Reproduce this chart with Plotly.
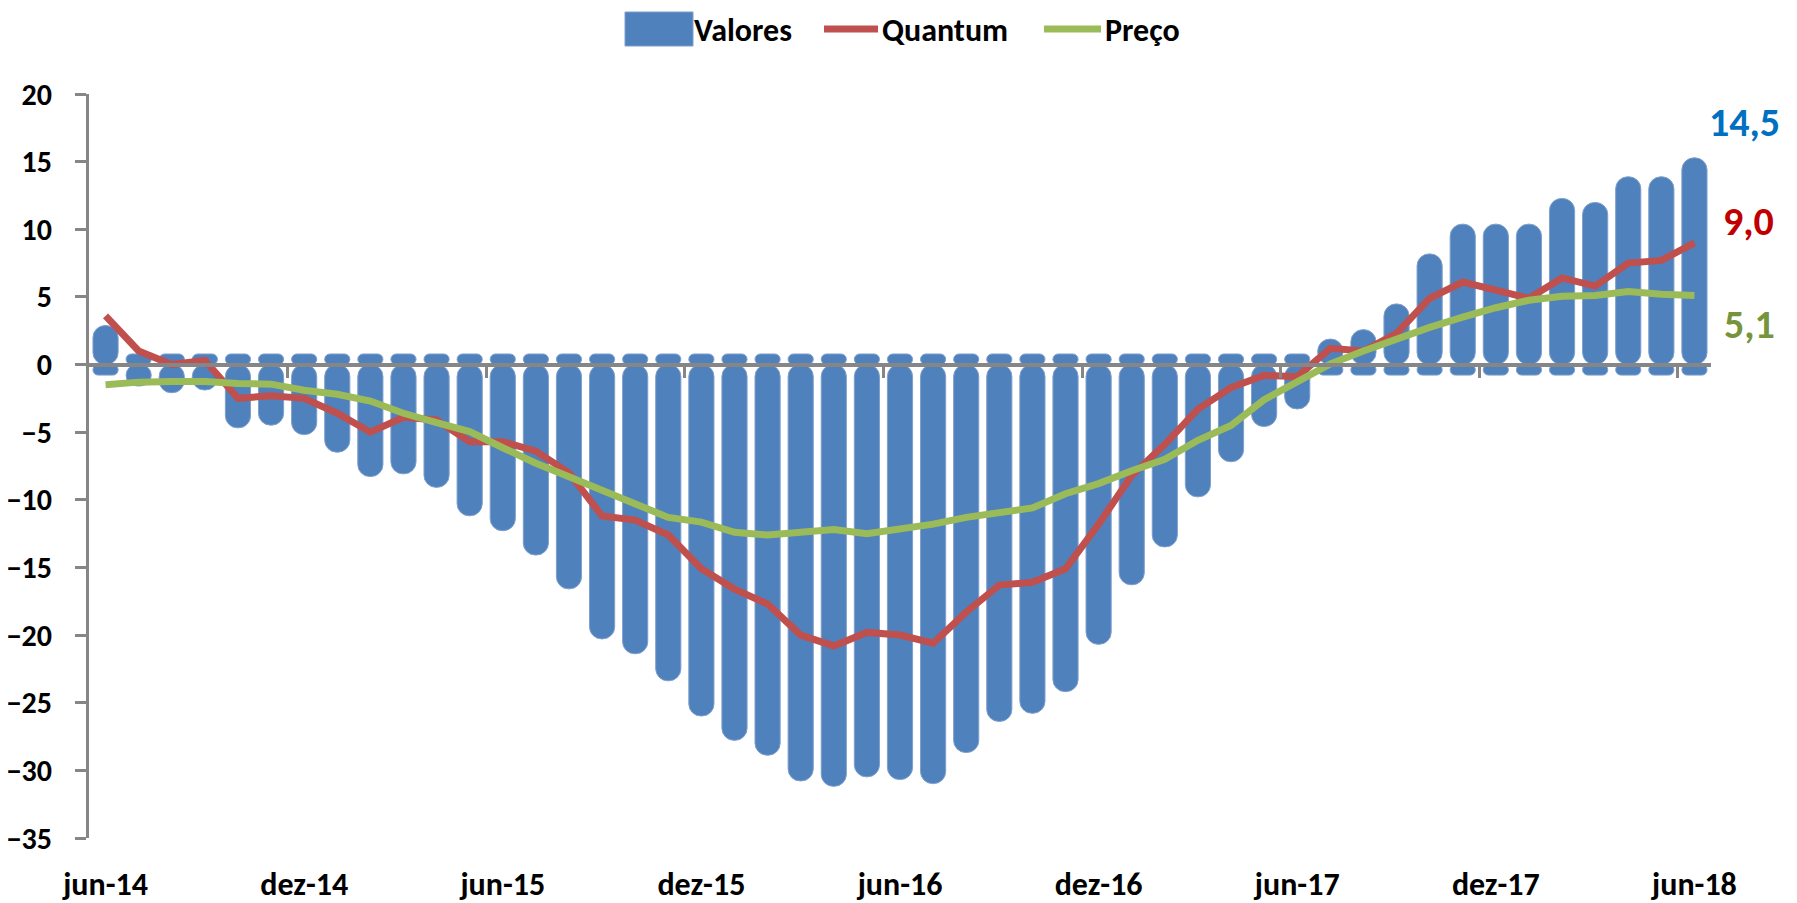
import plotly.graph_objects as go

# ---------------- data ----------------
months_pt = ["jan", "fev", "mar", "abr", "mai", "jun", "jul", "ago", "set", "out", "nov", "dez"]
categories = []
for yy in range(14, 19):
    for mi, m in enumerate(months_pt):
        if (yy == 14 and mi < 5) or (yy == 18 and mi > 5):
            continue
        categories.append(f"{m}-{yy}")

valores = [2.1, -0.8, -1.3, -1.1, -3.9, -3.7, -4.4, -5.7, -7.5, -7.3, -8.3, -10.4,
           -11.5, -13.3, -15.8, -19.5, -20.6, -22.6, -25.2, -27.0, -28.1, -30.0, -30.4, -29.7,
           -29.9, -30.2, -27.9, -25.6, -25.0, -23.4, -19.9, -15.5, -12.7, -9.0, -6.4, -3.8,
           -2.5, 1.1, 1.8, 3.7, 7.4, 9.6, 9.6, 9.6, 11.5, 11.2, 13.1, 13.1, 14.5]

quantum = [3.6, 1.0, 0.0, 0.3, -2.5, -2.3, -2.5, -3.6, -5.0, -3.9, -4.1, -5.7,
           -5.7, -6.4, -8.0, -11.2, -11.5, -12.6, -15.1, -16.6, -17.7, -20.0, -20.8, -19.8,
           -20.0, -20.6, -18.3, -16.3, -16.1, -15.1, -11.8, -8.2, -5.9, -3.3, -1.7, -0.8,
           -0.9, 1.2, 1.0, 2.3, 4.9, 6.1, 5.5, 4.9, 6.4, 5.8, 7.5, 7.7, 9.0]

preco = [-1.5, -1.3, -1.25, -1.25, -1.4, -1.45, -1.9, -2.2, -2.7, -3.6, -4.3, -4.95,
         -6.15, -7.3, -8.3, -9.3, -10.2, -11.3, -11.65, -12.4, -12.6, -12.4, -12.2, -12.5,
         -12.15, -11.8, -11.3, -10.9, -10.6, -9.55, -8.8, -7.85, -7.0, -5.6, -4.5, -2.6,
         -1.25, 0.05, 1.0, 1.9, 2.75, 3.5, 4.2, 4.75, 5.05, 5.1, 5.4, 5.2, 5.1]

y_ticks = list(range(-35, 21, 5))
label_every = 6

# ---------------- style ----------------
W, H = 1797, 903
ML, MR, MT, MB = 81, 94, 86, 73
PW, PH = W - ML - MR, H - MT - MB
YMIN, YMAX = -35, 20
FONT = "Carlito, Lato, sans-serif"
BLUE, RED, GREEN, AXIS = "#4F81BD", "#C0504D", "#9BBB59", "#868686"
CAP = 0.78        # rounded cap extension of each bar (data units)
BAR_W = 0.76
EDGE = "#7F9FCC"

n = len(categories)
idx = list(range(n))
sign = [1 if v >= 0 else -1 for v in valores]


def px_x(px):
    return (px - ML) / PW


def px_y(py):
    return (H - MB - py) / PH


def bfont(size, color="black"):
    return dict(family=FONT, size=size, color=color, weight="bold")


fig = go.Figure()

# bar bodies (rounded at the value end)
fig.add_trace(go.Bar(
    x=idx, y=[v + s * CAP for v, s in zip(valores, sign)], base=0, width=BAR_W,
    marker=dict(color=BLUE, cornerradius=12, line=dict(color=EDGE, width=1)),
    name="Valores", showlegend=False, xaxis="x", yaxis="y"))
# bar caps on the opposite side of the axis
fig.add_trace(go.Bar(
    x=idx, y=[-s * CAP for s in sign], base=0, width=BAR_W,
    marker=dict(color=BLUE, cornerradius=12, line=dict(color=EDGE, width=1)),
    name="Valores", showlegend=False, xaxis="x", yaxis="y"))

fig.add_trace(go.Scatter(
    x=idx, y=quantum, mode="lines", line=dict(color=RED, width=7),
    name="Quantum", showlegend=False, xaxis="x2", yaxis="y"))
fig.add_trace(go.Scatter(
    x=idx, y=preco, mode="lines", line=dict(color=GREEN, width=7),
    name="Preço", showlegend=False, xaxis="x2", yaxis="y"))


# end-value labels
def fmt(v):
    return f"{v:.1f}".replace(".", ",")


for val, col, xs, ys in [(valores[-1], "#0070C0", 50, 46), (quantum[-1], "#C00000", 54, 21),
                         (preco[-1], "#77933C", 55, -29)]:
    fig.add_annotation(x=idx[-1], y=val, xref="x2", yref="y", text=fmt(val), showarrow=False,
                       xshift=xs, yshift=ys, xanchor="center", yanchor="middle",
                       font=bfont(40, col))

# custom legend
shapes = [
    dict(type="rect", xref="paper", yref="paper", x0=px_x(617), x1=px_x(685), y0=px_y(38), y1=px_y(4),
         fillcolor=BLUE, line=dict(color=EDGE, width=1)),
    dict(type="line", xref="paper", yref="paper", x0=px_x(816), x1=px_x(870), y0=px_y(21), y1=px_y(21),
         line=dict(color=RED, width=7)),
    dict(type="line", xref="paper", yref="paper", x0=px_x(1036), x1=px_x(1093), y0=px_y(21), y1=px_y(21),
         line=dict(color=GREEN, width=7)),
]
for txt, xp in [("Valores", 685), ("Quantum", 873), ("Preço", 1096)]:
    fig.add_annotation(x=px_x(xp), y=px_y(22), xref="paper", yref="paper", text=txt, showarrow=False,
                       xanchor="left", yanchor="middle", borderpad=0, font=bfont(32))

zero_pos = (0 - YMIN) / (YMAX - YMIN)
boundaries = [i + 0.5 for i in idx[label_every - 1:-1:label_every]]

fig.update_layout(
    width=W, height=H, margin=dict(l=ML, r=MR, t=MT, b=MB, autoexpand=False),
    plot_bgcolor="white", paper_bgcolor="white", barmode="overlay",
    font=bfont(28), showlegend=False,
    shapes=shapes,
    xaxis=dict(range=[-0.5, n - 0.5], anchor="free", position=zero_pos, showline=True,
               linecolor=AXIS, linewidth=4, ticks="outside", ticklen=11, tickwidth=3, tickcolor=AXIS,
               tickvals=boundaries, showticklabels=False, showgrid=False, zeroline=False,
               layer="above traces", automargin=False),
    xaxis2=dict(range=[-0.5, n - 0.5], overlaying="x", anchor="y", side="bottom", showline=False,
                ticks="", tickvals=idx[::label_every], ticktext=categories[::label_every],
                showgrid=False, zeroline=False, ticklabelstandoff=24, automargin=False,
                tickfont=bfont(32)),
    yaxis=dict(range=[YMIN, YMAX], tickvals=y_ticks, showline=True, linecolor=AXIS, linewidth=3,
               ticks="outside", ticklen=11, tickwidth=3, tickcolor=AXIS, showgrid=False,
               zeroline=False, ticklabelstandoff=17, automargin=False,
               tickfont=bfont(30)),
)

fig.write_html("out.html")
